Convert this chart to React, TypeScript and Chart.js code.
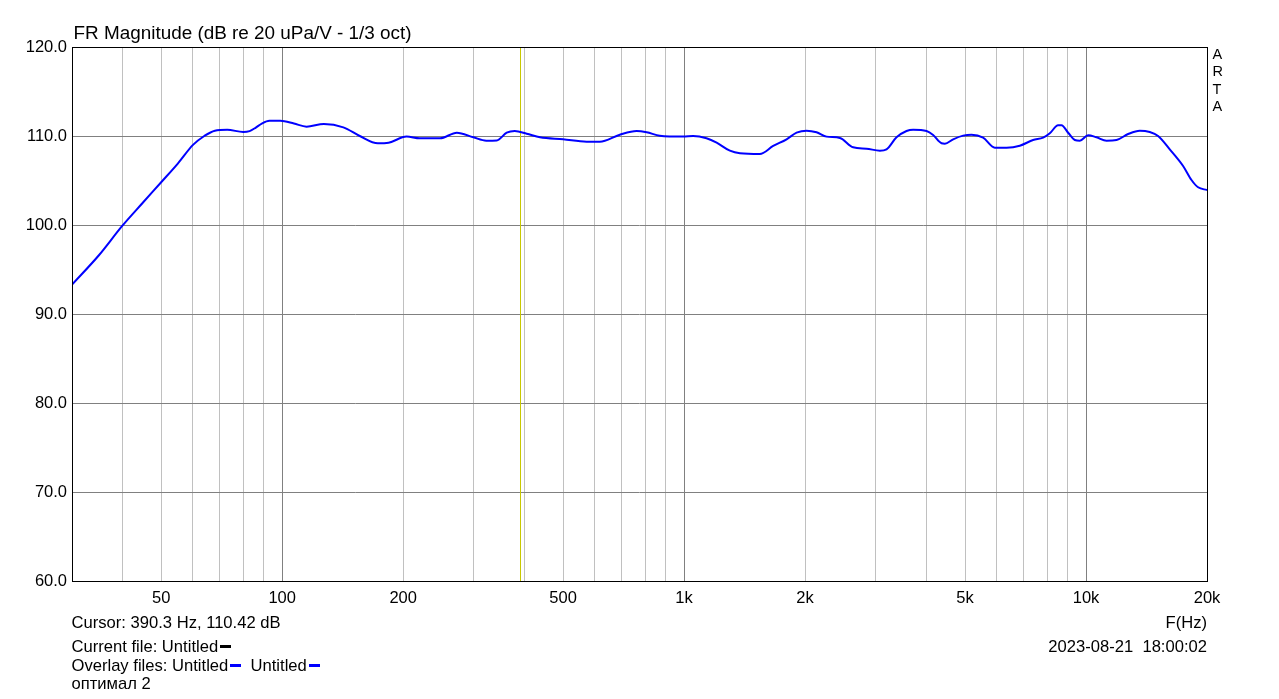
import React, { useEffect, useRef } from "react";
import { Chart, registerables } from "chart.js";

Chart.register(...registerables);

// Frequency response (1/3 oct)
const FREQ_HZ = [
  30, 35, 40, 45, 50, 55, 60, 64, 68, 73, 80, 83, 86, 89, 93, 99, 107, 115, 127, 142, 156, 173, 184,
  204, 220, 247, 272, 299, 322, 342, 362, 379, 406, 438, 500, 572, 617, 692, 762, 807, 870, 995,
  1053, 1137, 1205, 1300, 1377, 1543, 1666, 1799, 1905, 2017, 2136, 2262, 2442, 2634, 2844, 3070,
  3189, 3377, 3576, 3715, 4011, 4165, 4371, 4455, 4671, 4946, 5191, 5547, 5931, 6343, 6844, 7386,
  7823, 8128, 8523, 8690, 9026, 9379, 9651, 10122, 10620, 11247, 11911, 12729, 13608, 14411, 15115,
  16158, 17440, 18300, 19005, 20000,
];
const LEVEL_DB = [
  93.3, 96.6, 99.9, 102.5, 104.8, 106.9, 109.0, 110.0, 110.6, 110.7, 110.45, 110.55, 110.95, 111.4,
  111.7, 111.7, 111.4, 111.05, 111.35, 110.97, 110.0, 109.18, 109.25, 109.93, 109.74, 109.74,
  110.37, 109.85, 109.47, 109.5, 110.37, 110.56, 110.26, 109.85, 109.63, 109.36, 109.36, 110.15,
  110.56, 110.42, 110.04, 109.93, 110.0, 109.74, 109.25, 108.35, 108.06, 107.98, 108.88, 109.63,
  110.37, 110.6, 110.42, 109.93, 109.78, 108.73, 108.58, 108.35, 108.5, 109.85, 110.56, 110.71,
  110.56, 110.11, 109.18, 109.14, 109.63, 110.04, 110.15, 109.81, 108.69, 108.69, 108.91, 109.55,
  109.81, 110.3, 111.2, 111.2, 110.37, 109.55, 109.47, 110.08, 109.85, 109.47, 109.55, 110.22,
  110.6, 110.45, 110.0, 108.5, 106.63, 105.06, 104.24, 103.93,
];

const X_MIN_HZ = 30;
const X_MAX_HZ = 20000;
const X_GRID_HZ = [
  40, 50, 60, 70, 80, 90, 100, 200, 300, 400, 500, 600, 700, 800, 900, 1000, 2000, 3000, 4000,
  5000, 6000, 7000, 8000, 9000, 10000, 20000,
];
const X_MAJOR_HZ = [100, 1000, 10000];
const X_TICK_HZ = [50, 100, 200, 500, 1000, 2000, 5000, 10000, 20000];
const X_TICK_LABELS = ["50", "100", "200", "500", "1k", "2k", "5k", "10k", "20k"];
const Y_MIN_DB = 60;
const Y_MAX_DB = 120;
const Y_STEP_DB = 10;

const CURSOR_HZ = 390.3;
const CURSOR_DB = 110.42;

const FONT = "'Liberation Sans', Arial, sans-serif";

const framePlugin = {
  id: "frame",
  beforeDatasetsDraw(chart: any) {
    const { ctx, chartArea } = chart;
    const x = Math.round(chart.scales.x.getPixelForValue(CURSOR_HZ)) + 0.5;
    ctx.save();
    ctx.strokeStyle = "#c8c800";
    ctx.lineWidth = 1;
    ctx.beginPath();
    ctx.moveTo(x, chartArea.top);
    ctx.lineTo(x, chartArea.bottom);
    ctx.stroke();
    ctx.restore();
  },
  afterDraw(chart: any) {
    const { ctx, chartArea } = chart;
    ctx.save();
    ctx.strokeStyle = "#000000";
    ctx.lineWidth = 1;
    ctx.strokeRect(
      chartArea.left + 0.5,
      chartArea.top + 0.5,
      chartArea.right - chartArea.left,
      chartArea.bottom - chartArea.top
    );
    ctx.restore();
  },
};

function textStyle(left: number, baseline: number, fs: number) {
  return {
    position: "absolute" as const,
    left,
    top: baseline - 0.8465 * fs,
    fontSize: fs,
    lineHeight: `${fs}px`,
    fontFamily: FONT,
    color: "#000",
    whiteSpace: "pre" as const,
  };
}

function rightStyle(right: number, baseline: number, fs: number) {
  return {
    position: "absolute" as const,
    right: 1279 - right,
    top: baseline - 0.8465 * fs,
    fontSize: fs,
    lineHeight: `${fs}px`,
    fontFamily: FONT,
    color: "#000",
    whiteSpace: "pre" as const,
  };
}

const Dash = ({ color }: { color: string }) => (
  <span
    style={{
      display: "inline-block",
      width: 11,
      height: 3,
      background: color,
      marginLeft: 2,
      verticalAlign: "0.25em",
    }}
  />
);

export default function App() {
  const canvasRef = useRef<HTMLCanvasElement | null>(null);

  useEffect(() => {
    const canvas = canvasRef.current;
    if (!canvas) return;
    const tickLabel = (v: number) => {
      const i = X_TICK_HZ.indexOf(v);
      return i >= 0 ? X_TICK_LABELS[i] : "";
    };
    const chart = new Chart(canvas, {
      type: "line",
      data: {
        datasets: [
          {
            data: FREQ_HZ.map((f, i) => ({ x: f, y: LEVEL_DB[i] })),
            borderColor: "#0000ff",
            borderWidth: 2,
            pointRadius: 0,
            cubicInterpolationMode: "monotone",
            fill: false,
          },
        ],
      },
      options: {
        responsive: false,
        animation: false,
        events: [],
        layout: { padding: { left: 0, top: 47, right: 72, bottom: 0 } },
        plugins: {
          legend: { display: false },
          title: { display: false },
          tooltip: { enabled: false },
        },
        scales: {
          x: {
            type: "logarithmic",
            min: X_MIN_HZ,
            max: X_MAX_HZ,
            afterBuildTicks: (scale: any) => {
              scale.ticks = X_GRID_HZ.map((v) => ({ value: v }));
            },
            afterFit: (scale: any) => {
              scale.height = 118;
            },
            grid: {
              drawTicks: false,
              lineWidth: 1,
              color: (c: any) =>
                c.tick && X_MAJOR_HZ.includes(c.tick.value) ? "#808080" : "#c0c0c0",
            },
            border: { display: false },
            ticks: {
              autoSkip: false,
              maxRotation: 0,
              padding: 8,
              color: "#000",
              font: { family: FONT, size: 16.5 },
              callback: (v: any) => tickLabel(Number(v)),
            },
          },
          y: {
            type: "linear",
            min: Y_MIN_DB,
            max: Y_MAX_DB,
            afterFit: (scale: any) => {
              scale.width = 72;
            },
            grid: { drawTicks: false, color: "#808080", lineWidth: 1 },
            border: { display: false },
            ticks: {
              stepSize: Y_STEP_DB,
              padding: 5,
              color: "#000",
              font: { family: FONT, size: 16.5 },
              callback: (v: any) => Number(v).toFixed(1),
            },
          },
        },
      },
      plugins: [framePlugin],
    } as any);
    return () => chart.destroy();
  }, []);

  return (
    <div style={{ position: "absolute", left: 0, top: 0, width: 1279, height: 699, background: "#fff", overflow: "hidden" }}>
      <canvas ref={canvasRef} width={1279} height={699} style={{ position: "absolute", left: 0, top: 0, display: "block" }} />
      <div style={textStyle(73.5, 39.5, 18.9)}>FR Magnitude (dB re 20 uPa/V - 1/3 oct)</div>
      <div style={textStyle(1212.5, 59.3, 14.5)}>A</div>
      <div style={textStyle(1212.5, 76.5, 14.5)}>R</div>
      <div style={textStyle(1212.5, 93.8, 14.5)}>T</div>
      <div style={textStyle(1212.5, 111, 14.5)}>A</div>
      <div style={textStyle(71.5, 629.5, 16.6)}>{`Cursor: ${CURSOR_HZ} Hz, ${CURSOR_DB} dB`}</div>
      <div style={textStyle(71.5, 653.5, 16.6)}>
        Current file: Untitled<Dash color="#000" />
      </div>
      <div style={textStyle(71.5, 672.5, 16.6)}>
        Overlay files: Untitled<Dash color="#0000ff" />{"  "}Untitled<Dash color="#0000ff" />
      </div>
      <div style={textStyle(71.5, 690.5, 16.6)}>оптимал 2</div>
      <div style={rightStyle(1207, 629.5, 16.6)}>F(Hz)</div>
      <div style={rightStyle(1207, 653.5, 16.6)}>2023-08-21  18:00:02</div>
    </div>
  );
}
